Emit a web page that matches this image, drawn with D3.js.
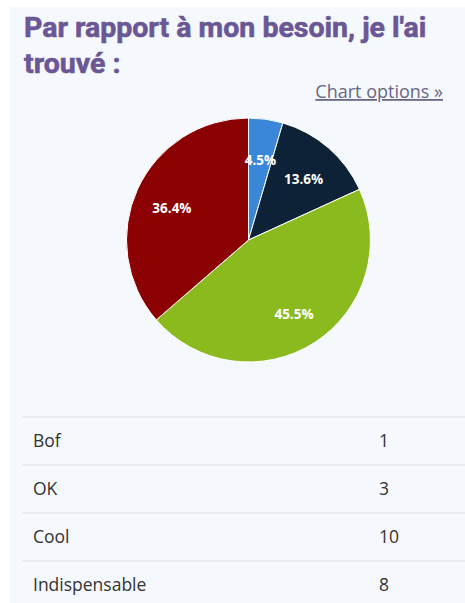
<!DOCTYPE html>
<html lang="fr">
<head>
    <meta charset="UTF-8">
    <script src="https://d3js.org/d3.v7.min.js"></script>
    <title>Par rapport à mon besoin</title>
    <style>
        html, body { margin: 0; padding: 0; background: #ffffff; }
        #chart { display: block; }
    </style>
</head>
<body>
<svg id="chart"></svg>

<script>
    const width = 465;
    const height = 603;

    // answers and counts
    const categories = ["Bof", "OK", "Cool", "Indispensable"];
    const counts = [1, 3, 10, 8];
    const sliceColors = ["#3a86d8", "#0d2137", "#8bba1f", "#8b0000"];
    const titleLines = ["Par rapport à mon besoin, je l'ai", "trouvé :"];

    const svg = d3.select("#chart")
        .attr("width", width)
        .attr("height", height);

    // panel background
    svg.append("rect")
        .attr("x", 10).attr("y", 7)
        .attr("width", width - 10).attr("height", height - 7)
        .attr("fill", "#f5f8fc");

    // title (a thin stroke makes it as heavy as the original)
    svg.append("g")
        .selectAll("text")
        .data(titleLines)
        .join("text")
        .attr("x", 24)
        .attr("y", (d, i) => 37 + i * 36)
        .attr("font-family", "Roboto, sans-serif")
        .attr("font-weight", 700)
        .attr("font-size", 28.5)
        .attr("fill", "#6b5795")
        .attr("stroke", "#6b5795")
        .attr("stroke-width", 0.6)
        .text(d => d);

    // link
    svg.append("text")
        .attr("x", 443).attr("y", 98)
        .attr("text-anchor", "end")
        .attr("font-family", "'Open Sans', sans-serif")
        .attr("font-size", 18)
        .attr("fill", "#6a6686")
        .attr("text-decoration", "underline")
        .text("Chart options »");

    // pie
    const cx = 248.5, cy = 240, radius = 122;
    const total = d3.sum(counts);
    const pie = d3.pie().sort(null).value(d => d.value);
    const arcs = pie(categories.map((c, i) => ({ name: c, value: counts[i] })));

    const arc = d3.arc().innerRadius(0).outerRadius(radius);
    const labelArc = d3.arc().innerRadius(radius * 0.69).outerRadius(radius * 0.69);
    const color = d3.scaleOrdinal().domain(categories).range(sliceColors);

    const g = svg.append("g").attr("transform", `translate(${cx},${cy})`);

    g.selectAll("path")
        .data(arcs)
        .join("path")
        .attr("d", arc)
        .attr("fill", d => color(d.data.name))
        .attr("stroke", "#ffffff")
        .attr("stroke-width", 1);

    g.selectAll("text")
        .data(arcs)
        .join("text")
        .attr("transform", d => `translate(${labelArc.centroid(d)})`)
        .attr("text-anchor", "middle")
        .attr("dy", "0.6em")
        .attr("font-family", "'Open Sans', sans-serif")
        .attr("font-weight", 700)
        .attr("font-size", 13.5)
        .attr("fill", "#ffffff")
        .text(d => d3.format(".1f")(d.data.value / total * 100) + "%");

    // table
    const rowY = d3.scaleBand()
        .domain(categories)
        .range([417, 417 + 48 * categories.length]);

    const rows = svg.append("g")
        .selectAll("g")
        .data(categories)
        .join("g")
        .attr("transform", d => `translate(0,${rowY(d)})`);

    rows.append("line")
        .attr("x1", 22).attr("x2", width)
        .attr("y1", 0).attr("y2", 0)
        .attr("stroke", "#d9dde2")
        .attr("stroke-width", 1.2);

    rows.append("text")
        .attr("x", 33)
        .attr("y", rowY.bandwidth() / 2)
        .attr("dy", "0.35em")
        .attr("font-family", "'Open Sans', sans-serif")
        .attr("font-size", 17.5)
        .attr("fill", "#333333")
        .text(d => d);

    rows.append("text")
        .attr("x", 379)
        .attr("y", rowY.bandwidth() / 2)
        .attr("dy", "0.35em")
        .attr("font-family", "'Open Sans', sans-serif")
        .attr("font-size", 17.5)
        .attr("fill", "#333333")
        .text((d, i) => counts[i]);
</script>
</body>
</html>
